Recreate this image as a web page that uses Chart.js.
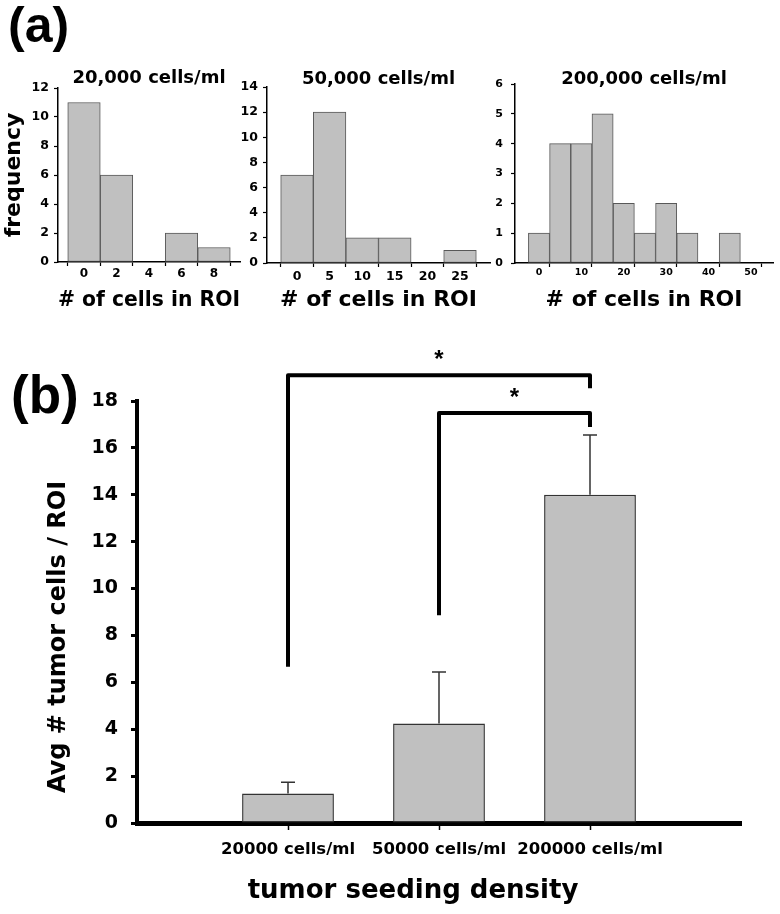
<!DOCTYPE html>
<html><head><meta charset="utf-8">
<script src="https://cdn.jsdelivr.net/npm/chart.js@4.4.1/dist/chart.umd.min.js"></script>
<style>
html,body{margin:0;padding:0;background:#fff;}
body{width:780px;height:914px;position:relative;overflow:hidden;}
canvas{position:absolute;}
.panel{position:absolute;font-family:"Liberation Sans",Arial,sans-serif;font-weight:bold;line-height:1;color:#000;}
</style></head><body>
<div class="panel" style="left:8px;top:0px;font-size:50px;">(a)</div>
<div class="panel" style="left:11px;top:368px;font-size:53px;">(b)</div>
<canvas id="h1" width="250" height="260" style="left:0px;top:60px;width:250px;height:260px;"></canvas>
<canvas id="h2" width="260" height="260" style="left:235px;top:60px;width:260px;height:260px;"></canvas>
<canvas id="h3" width="290" height="260" style="left:490px;top:60px;width:290px;height:260px;"></canvas>
<canvas id="bar" width="780" height="574" style="left:0px;top:340px;width:780px;height:574px;"></canvas>
<script>
// ---------- data: panel (a) histograms ----------
const h1Title = '20,000 cells/ml';
const h1Bins = [0, 2, 4, 6, 8];
const h1Counts = [11, 6, 0, 2, 1];
const h1TickLabels = [0, 2, 4, 6, 8];

const h2Title = '50,000 cells/ml';
const h2Bins = [0, 5, 10, 15, 20, 25];
const h2Counts = [7, 12, 2, 2, 0, 1];
const h2TickLabels = [0, 5, 10, 15, 20, 25];

const h3Title = '200,000 cells/ml';
const h3Bins = [0, 5, 10, 15, 20, 25, 30, 35, 40, 45, 50];
const h3Counts = [1, 4, 4, 5, 2, 1, 2, 1, 0, 1, 0];
const h3TickLabels = [0, 10, 20, 30, 40, 50];

const histXTitle = '# of cells in ROI';
const histYTitle = 'frequency';

// ---------- data: panel (b) bar chart ----------
const categories = ['20000 cells/ml', '50000 cells/ml', '200000 cells/ml'];
const meanCells = [1.26, 4.24, 14.0];
const errorUp = [0.48, 2.2, 2.55];
const barXTitle = 'tumor seeding density';
const barYTitle = 'Avg # tumor cells / ROI';
// significance brackets (category index from/to, y values of the bracket ends)
const sigFrom = [0, 1];
const sigTo = [2, 2];
const sigLeftEnd = [6.66, 8.86];
const sigTop = [19.1, 17.49];
const sigRightEnd = [18.54, 16.89];
const sigLabels = ['*', '*'];

Chart.defaults.font.family = "'DejaVu Sans', sans-serif";
Chart.defaults.font.weight = 'bold';
Chart.defaults.color = '#000';

const clear = 'rgba(0,0,0,0)';

function histChart(id, title, bins, counts, tickLabels, marks, cfg) {
  const allTicks = Array.from(new Set([...tickLabels, ...marks])).sort((a, b) => a - b);
  return new Chart(document.getElementById(id), {
    type: 'bar',
    data: {
      datasets: [{
        data: bins.map((b, i) => ({x: b, y: counts[i]})),
        backgroundColor: '#c0c0c0', borderColor: '#585858', borderWidth: 1,
        borderSkipped: false, barThickness: 'flex', barPercentage: 1, categoryPercentage: 1
      }]
    },
    options: {
      responsive: false, animation: false,
      layout: {padding: {left: 0, right: cfg.padRight, top: 0, bottom: 0}},
      plugins: {
        legend: {display: false}, tooltip: {enabled: false},
        title: {display: true, text: title, fullSize: false, color: '#000',
          font: {size: 18, weight: 'bold', lineHeight: 10 / 18},
          padding: {top: cfg.tPadTop, bottom: cfg.tPadBottom}}
      },
      scales: {
        x: {
          type: 'linear', min: cfg.xMin, max: cfg.xMax, offset: false, z: 1,
          afterBuildTicks: s => { s.ticks = allTicks.map(v => ({value: v})); },
          afterFit: s => { s.height = cfg.xH; },
          grid: {display: true, drawOnChartArea: false, drawTicks: true, tickLength: 4, offset: false,
            tickWidth: 1.2,
            tickColor: c => (c.tick && marks.includes(c.tick.value)) ? '#000' : clear},
          border: {display: true, color: '#000', width: 1.5},
          ticks: {autoSkip: false, maxRotation: 0, minRotation: 0, padding: cfg.xTickPad,
            font: {size: cfg.xTickSize},
            callback: v => tickLabels.includes(v) ? String(v) : ''},
          title: {display: true, text: histXTitle, font: {size: 22, lineHeight: 1},
            padding: {top: 0, bottom: 9}}
        },
        y: {
          min: 0, max: cfg.yMax,
          afterFit: s => { s.width = cfg.yW; },
          ticks: {stepSize: cfg.yStep, padding: cfg.yTickPad, font: {size: cfg.yTickSize}},
          grid: {display: true, drawOnChartArea: false, drawTicks: true, tickLength: 4,
            tickColor: '#000', tickWidth: 1.2},
          border: {display: true, color: '#000', width: 1.5},
          title: cfg.yTitle ? {display: true, text: cfg.yTitle, font: {size: 22, lineHeight: 1},
            padding: {top: 3, bottom: 0}} : {display: false}
        }
      }
    }
  });
}

function boundaries(bins) {
  const w = bins[1] - bins[0];
  return bins.map(b => b - w / 2).concat([bins[bins.length - 1] + w / 2]);
}

histChart('h1', h1Title, h1Bins, h1Counts, h1TickLabels, boundaries(h1Bins), {
  padRight: 10, tPadTop: 13, tPadBottom: 5, xMin: -1.6, xMax: 9.6, xH: 58,
  xTickPad: 1, xTickSize: 12, yMax: 12, yStep: 2, yW: 58, yTickPad: 5, yTickSize: 12.5,
  yTitle: histYTitle
});
histChart('h2', h2Title, h2Bins, h2Counts, h2TickLabels, boundaries(h2Bins), {
  padRight: 5, tPadTop: 14, tPadBottom: 3, xMin: -4.6, xMax: 29.6, xH: 57,
  xTickPad: 2, xTickSize: 12.5, yMax: 14, yStep: 2, yW: 32, yTickPad: 5, yTickSize: 12.5
});
histChart('h3', h3Title, h3Bins, h3Counts, h3TickLabels, h3TickLabels.map(v => v + 2.5), {
  padRight: 7, tPadTop: 14, tPadBottom: 0, xMin: -5.66, xMax: 55.2, xH: 57,
  xTickPad: 0, xTickSize: 9.5, yMax: 6, yStep: 1, yW: 25, yTickPad: 8, yTickSize: 11
});

// ---------- panel (b) ----------
const barLabels = [''].concat(categories, ['']);
const barData = [null].concat(meanCells, [null]);

const errorBarsPlugin = {
  id: 'errorBars',
  afterDatasetsDraw(chart) {
    const {ctx, scales: {x, y}} = chart;
    ctx.save();
    ctx.strokeStyle = '#333';
    ctx.lineWidth = 1.5;
    meanCells.forEach((m, i) => {
      const px = x.getPixelForValue(i + 1);
      const yb = y.getPixelForValue(m);
      const yt = y.getPixelForValue(m + errorUp[i]);
      ctx.beginPath();
      ctx.moveTo(px, yb); ctx.lineTo(px, yt);
      ctx.moveTo(px - 7, yt); ctx.lineTo(px + 7, yt);
      ctx.stroke();
    });
    ctx.restore();
  }
};

const bracketPlugin = {
  id: 'brackets',
  afterDraw(chart) {
    const {ctx, scales: {x, y}} = chart;
    ctx.save();
    ctx.strokeStyle = '#000';
    ctx.lineWidth = 4;
    ctx.lineJoin = 'round';
    ctx.fillStyle = '#000';
    ctx.font = "bold 24px 'Liberation Sans', Arial, sans-serif";
    ctx.textAlign = 'center';
    ctx.textBaseline = 'alphabetic';
    sigFrom.forEach((f, i) => {
      const x1 = x.getPixelForValue(f + 1);
      const x2 = x.getPixelForValue(sigTo[i] + 1);
      const yt = y.getPixelForValue(sigTop[i]);
      ctx.beginPath();
      ctx.moveTo(x1, y.getPixelForValue(sigLeftEnd[i]));
      ctx.lineTo(x1, yt);
      ctx.lineTo(x2, yt);
      ctx.lineTo(x2, y.getPixelForValue(sigRightEnd[i]));
      ctx.stroke();
      ctx.fillText(sigLabels[i], (x1 + x2) / 2, yt - 8);
    });
    ctx.restore();
  }
};

new Chart(document.getElementById('bar'), {
  type: 'bar',
  data: {
    labels: barLabels,
    datasets: [{
      data: barData,
      backgroundColor: '#c0c0c0', borderColor: '#333', borderWidth: 1.5, borderSkipped: false,
      categoryPercentage: 0.8, barPercentage: 0.76
    }]
  },
  options: {
    responsive: false, animation: false,
    layout: {padding: {top: 20, right: 0, left: 46, bottom: 0}},
    plugins: {
      legend: {display: false}, tooltip: {enabled: false},
      // axis titles, centred on the figure area as in the original
      title: {display: true, position: 'bottom', fullSize: true, text: barXTitle, color: '#000',
        font: {size: 26, weight: 'bold', lineHeight: 1}, padding: {top: 10, bottom: 10}},
      subtitle: {display: true, position: 'left', fullSize: true, text: barYTitle, color: '#000',
        font: {size: 24, weight: 'bold', lineHeight: 1}, padding: {top: 1, bottom: 0}}
    },
    scales: {
      x: {
        type: 'category', offset: false, z: 1,
        afterFit: s => { s.height = 45; },
        grid: {display: true, drawOnChartArea: false, offset: false, tickLength: 7, tickWidth: 1.5,
          tickColor: c => (c.tick && c.index > 0 && c.index < barLabels.length - 1) ? '#000' : clear},
        border: {display: true, color: '#000', width: 5},
        ticks: {autoSkip: false, maxRotation: 0, minRotation: 0, padding: 10, font: {size: 16.5}}
      },
      y: {
        min: 0, max: 18,
        afterFit: s => { s.width = 66; },
        ticks: {stepSize: 2, padding: 13, font: {size: 19}},
        grid: {display: true, drawOnChartArea: false, tickLength: 6, tickWidth: 3, tickColor: '#000'},
        border: {display: true, color: '#000', width: 4}
      },
      xTop: {
        type: 'linear', position: 'top', axis: 'x', display: true,
        grid: {display: false}, border: {display: false}, ticks: {display: false},
        afterFit: s => { s.height = 41; }
      },
      yRight: {
        type: 'linear', position: 'right', axis: 'y', display: true,
        grid: {display: false}, border: {display: false}, ticks: {display: false},
        afterFit: s => { s.width = 39; }
      }
    }
  },
  plugins: [errorBarsPlugin, bracketPlugin]
});
</script>
</body></html>
